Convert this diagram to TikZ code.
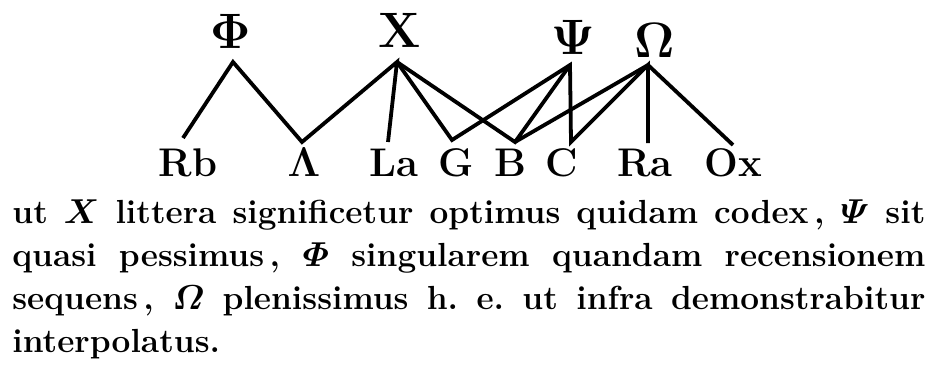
\documentclass[tikz,border=0pt]{standalone}
\usepackage{amsmath,bm}
\usetikzlibrary{positioning}

\begin{document}
\begin{tikzpicture}[x=0.5pt,y=-0.5pt,
  siglum/.style={inner sep=0pt,font=\fontsize{27}{32}\selectfont\boldmath},
  codex/.style={inner sep=0pt,anchor=base,font=\fontsize{20}{24}\selectfont\bfseries},
  stemma/.style={line width=1.9pt,line join=miter},
  gloss/.style={inner sep=0pt,anchor=base west,text width=456.5pt,align=justify,
    font=\fontsize{16.7}{21.5}\selectfont\bfseries\frenchspacing}]
\useasboundingbox (0,0) rectangle (930,371);
% hyparchetypi
\node[siglum] (Phi) at (231,31) {$\Phi$};
\node[siglum] (Chi) at (400,30) {$\mathrm{X}$};
\node[siglum] (Psi) at (573,37) {$\Psi$};
\node[siglum] (Om) at (655,40) {$\Omega$};
\coordinate (phi) at (233,62);
\coordinate (chi) at (397,62);
\coordinate (psi) at (570,65);
\coordinate (om) at (648,65);
% codices
\node[codex] (Rb) at (188,176) {Rb};
\node[codex] (Lam) at (304,176) {$\mathbf{\Lambda}$};
\node[codex] (La) at (394,176) {La};
\node[codex] (G) at (456,176) {G};
\node[codex] (B) at (510,176) {B};
\node[codex] (C) at (562,176) {C};
\node[codex] (Ra) at (645,176) {Ra};
\node[codex] (Ox) at (733,176) {Ox};
\coordinate (rb) at (183,138);
\coordinate (lam) at (302,142);
\coordinate (la) at (388,142);
\coordinate (g) at (452,140);
\coordinate (b) at (515,142);
\coordinate (c) at (571,142);
\coordinate (ra) at (648,143);
\coordinate (ox) at (733,145);
\draw[stemma] (rb) -- (phi) -- (lam) -- (chi) -- (la);
\draw[stemma] (chi) -- (g) -- (psi) -- (c) -- (om) -- (ra);
\draw[stemma] (chi) -- (b) -- (psi);
\draw[stemma] (b) -- (om) -- (ox);
\node[gloss] (text) at (12,223) {ut $\bm{X}$ littera significetur optimus quidam codex\,, $\bm{\varPsi}$ sit\linebreak
quasi pessimus\,, $\bm{\varPhi}$ singularem quandam recensionem\linebreak
sequens\,, $\bm{\varOmega}$ plenissimus h. e. ut infra demonstrabitur\linebreak
interpolatus.};
\end{tikzpicture}
\end{document}
